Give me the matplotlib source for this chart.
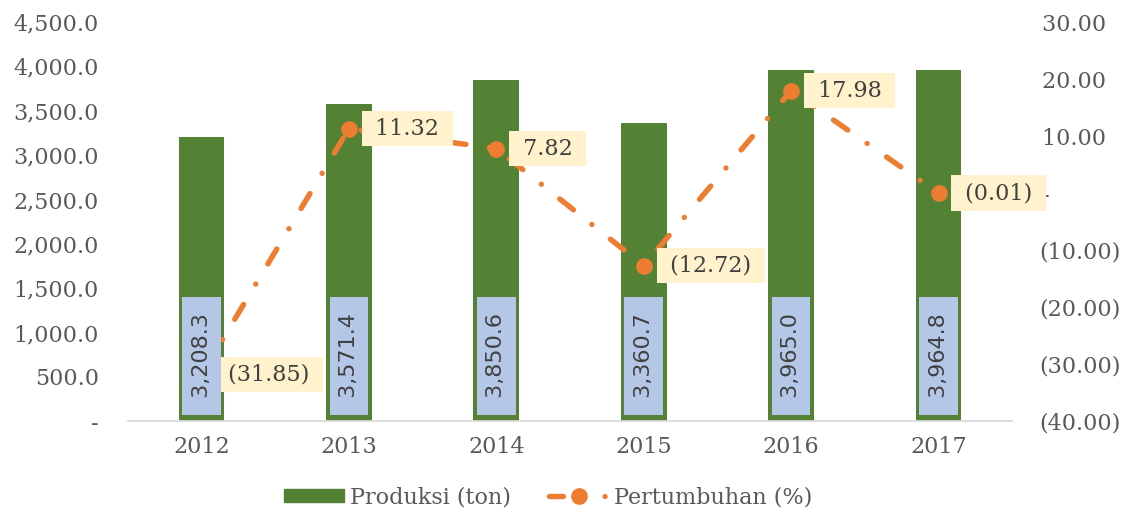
import matplotlib
matplotlib.use("Agg")
import matplotlib.pyplot as plt
from matplotlib.lines import Line2D
from matplotlib.patches import Patch

# data
tahun = ['2012', '2013', '2014', '2015', '2016', '2017']
produksi = [3208.3, 3571.4, 3850.6, 3360.7, 3965.0, 3964.8]
pertumbuhan = [-31.85, 11.32, 7.82, -12.72, 17.98, -0.01]
kiri_ticks = [0, 500, 1000, 1500, 2000, 2500, 3000, 3500, 4000, 4500]
kanan_ticks = [-40, -30, -20, -10, 0, 10, 20, 30]

plt.rcParams['font.family'] = ['DejaVu Serif']
plt.rcParams['lines.scale_dashes'] = False

hijau = '#548235'
oranye = '#ED7D31'
biru = '#B4C7E7'
kuning = '#FFF2CC'
abu = '#595959'


def fmt_kiri(v):
    return '-' if v == 0 else '{:,.1f}'.format(v)


def fmt_kanan(v):
    if v == 0:
        return '-' + '\u2007' * 5
    if v < 0:
        return '({:,.2f})'.format(-v)
    return '{:,.2f}\u2007'.format(v)


def fmt_label(v):
    if v < 0:
        return ' ({:,.2f}) '.format(-v)
    return ' {:,.2f} '.format(v)


fig = plt.figure(figsize=(11.31, 5.13), dpi=100)
ax = fig.add_axes([0.113, 0.179, 0.782, 0.778])
x = list(range(len(tahun)))

ax.bar(x, produksi, width=0.31, color=hijau, zorder=2)
ax.set_xlim(-0.5, len(tahun) - 0.5)
ax.set_ylim(0, 4500)
ax.set_yticks(kiri_ticks)
ax.set_yticklabels([fmt_kiri(v) for v in kiri_ticks])
ax.set_xticks(x)
ax.set_xticklabels(tahun)
ax.tick_params(axis='both', length=0, labelsize=16, labelcolor=abu)
ax.tick_params(axis='y', pad=21)
ax.tick_params(axis='x', pad=11)
for s in ['top', 'right', 'left']:
    ax.spines[s].set_visible(False)
ax.spines['bottom'].set_color('#D9D9D9')
ax.spines['bottom'].set_linewidth(1.3)

ax2 = ax.twinx()
ax2.plot(x, pertumbuhan, color=oranye, lw=3.9, dash_capstyle='round',
         linestyle=(0, (12.5, 17, 0.01, 17)), marker='o', markersize=11, zorder=3)
ax2.set_ylim(-40, 30)
ax2.set_yticks(kanan_ticks)
ax2.set_yticklabels([fmt_kanan(v) for v in kanan_ticks], ha='right')
ax2.tick_params(axis='y', length=0, labelsize=16, labelcolor=abu, pad=78)
for s in ['top', 'right', 'left', 'bottom']:
    ax2.spines[s].set_visible(False)

# label pertumbuhan
for i, v in enumerate(pertumbuhan):
    ax2.annotate(fmt_label(v), xy=(i, v), xytext=(14, 0), textcoords='offset points',
                 ha='left', va='center', fontsize=16, color='#404040', zorder=5,
                 bbox=dict(boxstyle='square,pad=0.3', fc=kuning, ec='none'))

# label produksi
for i, v in enumerate(produksi):
    ax2.annotate(' {:,.1f} '.format(v), xy=(i, 0), xycoords=('data', 'axes fraction'),
                 xytext=(0, 11.5), textcoords='offset points', rotation=90,
                 ha='center', va='bottom', fontsize=16, color='#404040',
                 family='DejaVu Sans', zorder=6,
                 bbox=dict(boxstyle='square,pad=0.42', fc=biru, ec='none'))

handles = [Patch(color=hijau),
           Line2D([], [], color=oranye, lw=3.9, dash_capstyle='round',
                  linestyle=(0, (10, 30, 0.01, 40)), marker='o', markersize=11)]
fig.legend(handles, ['Produksi (ton)', 'Pertumbuhan (%)'], loc='center',
           bbox_to_anchor=(0.485, 0.031), ncol=2, frameon=False, fontsize=16,
           labelcolor=abu, handlelength=2.7, handleheight=0.55, handletextpad=0.25,
           columnspacing=1.7)

fig.savefig('out.png', dpi=100)
